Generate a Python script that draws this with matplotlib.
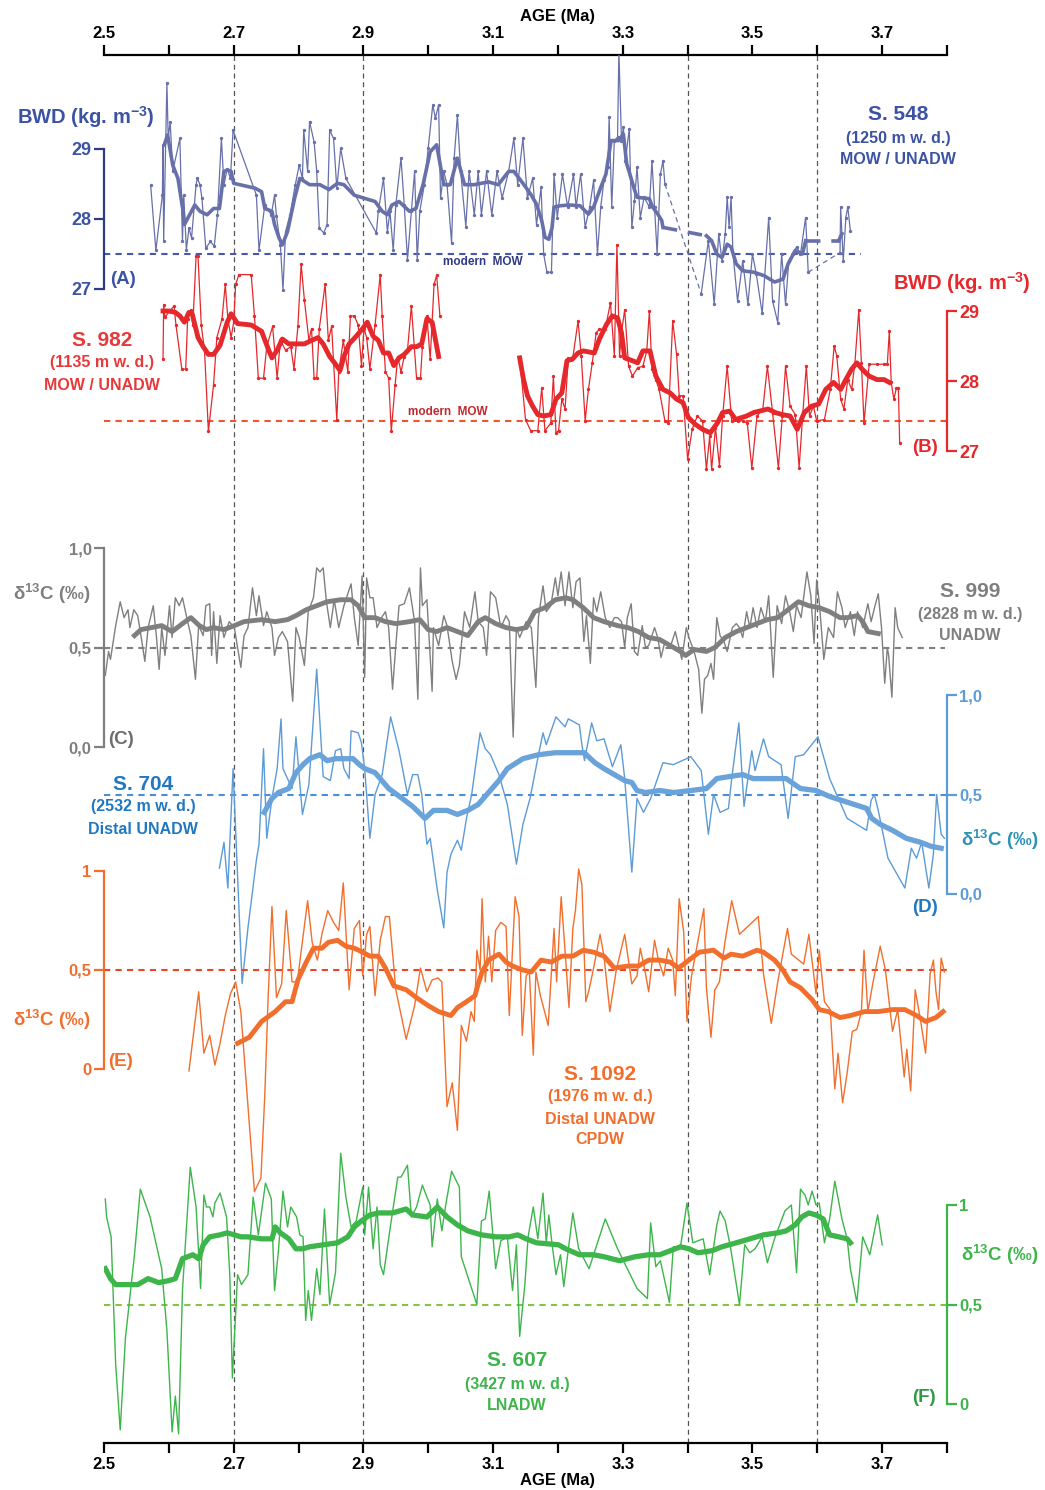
import matplotlib.pyplot as plt
import numpy as np

plt.rcParams['font.family'] = ['Liberation Sans', 'DejaVu Sans']
plt.rcParams['font.weight'] = 'bold'
plt.rcParams['mathtext.fontset'] = 'custom'
plt.rcParams['mathtext.rm'] = 'Liberation Sans:bold'
plt.rcParams['mathtext.it'] = 'Liberation Sans:bold'
plt.rcParams['mathtext.bf'] = 'Liberation Sans:bold'

# ---------------- data (age Ma, value) ----------------
# (A) S. 548 BWD
a_thin = np.array([
    [2.572, 28.48], [2.580, 27.55], [2.590, 28.34], [2.591, 29.06], [2.592, 27.68], [2.597, 29.94],
    [2.599, 29.15], [2.602, 29.39], [2.606, 28.68], [2.617, 29.15], [2.621, 27.68], [2.623, 28.34],
    [2.627, 27.56], [2.631, 27.87], [2.635, 27.73], [2.642, 28.49], [2.644, 28.58], [2.648, 28.49],
    [2.651, 28.30], [2.657, 27.58], [2.664, 27.68], [2.670, 27.61], [2.675, 28.06], [2.681, 29.15],
    [2.685, 28.49], [2.690, 28.72], [2.695, 28.58], [2.699, 29.27], [2.735, 28.34], [2.739, 27.55],
    [2.748, 28.20], [2.758, 28.06], [2.763, 28.34], [2.766, 28.04], [2.772, 27.63], [2.776, 26.99],
    [2.780, 27.82], [2.787, 28.06], [2.795, 28.49], [2.801, 28.77], [2.806, 28.58], [2.808, 29.27],
    [2.814, 28.68], [2.817, 29.39], [2.824, 29.10], [2.828, 28.68], [2.832, 27.87], [2.839, 27.80],
    [2.844, 27.92], [2.848, 29.27], [2.854, 29.15], [2.859, 28.44], [2.865, 29.01], [2.873, 28.58],
    [2.920, 27.80], [2.923, 28.11], [2.931, 28.58], [2.937, 27.82], [2.941, 28.11], [2.946, 27.55],
    [2.950, 28.20], [2.958, 28.87], [2.963, 28.20], [2.968, 27.42], [2.974, 28.11], [2.979, 28.68],
    [2.983, 27.42], [2.987, 28.11], [2.994, 28.49], [3.000, 29.01], [3.007, 29.63], [3.011, 29.44],
    [3.016, 29.63], [3.019, 28.30], [3.024, 28.68], [3.029, 28.49], [3.036, 27.66], [3.040, 28.87],
    [3.045, 29.48], [3.050, 28.68], [3.058, 27.89], [3.063, 28.68], [3.071, 28.06], [3.077, 28.68],
    [3.082, 28.06], [3.090, 28.68], [3.098, 28.06], [3.106, 28.68], [3.114, 28.30], [3.124, 28.68],
    [3.132, 29.15], [3.138, 28.49], [3.146, 29.15], [3.153, 28.30], [3.161, 28.58], [3.167, 27.92],
    [3.174, 28.45], [3.178, 27.50], [3.183, 27.24], [3.190, 27.24], [3.194, 28.64], [3.199, 28.02],
    [3.207, 28.64], [3.215, 28.17], [3.224, 28.64], [3.228, 28.17], [3.235, 28.64], [3.242, 27.88],
    [3.249, 28.17], [3.255, 28.55], [3.261, 27.50], [3.266, 28.17], [3.271, 28.55], [3.277, 28.74],
    [3.279, 29.45], [3.283, 28.17], [3.287, 29.12], [3.292, 29.17], [3.294, 30.40], [3.298, 29.12],
    [3.301, 29.31], [3.304, 28.83], [3.310, 29.29], [3.314, 27.88], [3.318, 28.26], [3.322, 28.74],
    [3.327, 28.02], [3.333, 28.31], [3.341, 28.17], [3.345, 28.83], [3.349, 28.17], [3.353, 27.50],
    [3.358, 28.64], [3.362, 28.83], [3.365, 28.50],
    [3.421, 26.93], [3.432, 27.69], [3.441, 26.78], [3.448, 27.79], [3.453, 27.40], [3.458, 27.79],
    [3.461, 28.31], [3.464, 27.88], [3.467, 28.31], [3.470, 27.50], [3.477, 26.83], [3.485, 27.40],
    [3.493, 26.78], [3.500, 27.50], [3.506, 27.21], [3.515, 26.65], [3.525, 28.02], [3.531, 26.83],
    [3.539, 26.52], [3.545, 27.50], [3.551, 26.78], [3.556, 27.40], [3.562, 27.50], [3.568, 27.60],
    [3.574, 27.50], [3.582, 28.02], [3.586, 27.24],
    [3.635, 27.52], [3.636, 28.17], [3.640, 27.40], [3.644, 28.02], [3.647, 28.17], [3.651, 27.83]])
a_thick = np.array([
    [2.593, 29.06], [2.598, 29.20], [2.606, 28.77], [2.614, 28.58], [2.622, 28.11], [2.624, 27.92],
    [2.632, 28.06], [2.640, 28.20], [2.648, 28.11], [2.659, 28.06], [2.669, 28.15], [2.678, 28.15],
    [2.685, 28.68], [2.690, 28.70], [2.696, 28.68], [2.700, 28.51], [2.733, 28.44], [2.743, 28.39],
    [2.748, 28.15], [2.759, 28.11], [2.763, 27.92], [2.770, 27.73], [2.775, 27.63], [2.783, 27.82],
    [2.794, 28.30], [2.802, 28.58], [2.817, 28.49], [2.833, 28.49], [2.847, 28.42], [2.860, 28.51],
    [2.870, 28.49], [2.886, 28.34], [2.918, 28.25], [2.929, 28.11], [2.937, 28.06], [2.944, 28.20],
    [2.955, 28.25], [2.971, 28.11], [2.981, 28.15], [2.992, 28.49], [3.003, 28.96], [3.013, 29.06],
    [3.024, 28.49], [3.034, 28.49], [3.045, 28.87], [3.056, 28.49], [3.071, 28.49], [3.093, 28.53],
    [3.108, 28.49], [3.124, 28.68], [3.132, 28.68], [3.146, 28.51], [3.159, 28.34], [3.167, 28.21],
    [3.175, 27.98], [3.180, 27.74], [3.186, 27.71], [3.191, 27.88], [3.194, 28.17], [3.204, 28.19],
    [3.218, 28.20], [3.234, 28.19], [3.247, 28.07], [3.255, 28.17], [3.266, 28.45], [3.274, 28.64],
    [3.282, 29.12], [3.293, 29.12], [3.301, 29.21], [3.306, 28.79], [3.311, 28.64], [3.317, 28.45],
    [3.322, 28.31], [3.341, 28.29], [3.346, 28.17], [3.354, 28.07], [3.360, 27.98], [3.362, 27.88],
    [3.429, 27.76], [3.437, 27.69], [3.445, 27.50], [3.453, 27.45], [3.461, 27.64], [3.467, 27.60],
    [3.475, 27.36], [3.485, 27.26], [3.502, 27.24], [3.518, 27.19], [3.534, 27.10], [3.547, 27.14],
    [3.555, 27.36], [3.566, 27.55], [3.577, 27.50], [3.582, 27.69],
    [3.633, 27.69], [3.638, 27.79]])
a_breaks = [3.39, 3.61]
a_modern = 27.5

# (B) S. 982 BWD
b_thin = np.array([
    [2.591, 28.31], [2.592, 29.09], [2.594, 28.91], [2.603, 29.02], [2.608, 29.07], [2.611, 28.80],
    [2.620, 28.17], [2.626, 28.17], [2.629, 28.89], [2.634, 29.02], [2.637, 28.80], [2.642, 29.78],
    [2.645, 29.78], [2.650, 28.80], [2.655, 28.44], [2.661, 27.28], [2.669, 27.95], [2.674, 28.62],
    [2.682, 28.89], [2.687, 29.38], [2.691, 28.89], [2.696, 28.62], [2.700, 28.84], [2.703, 29.38],
    [2.708, 29.52], [2.727, 29.52], [2.732, 28.93], [2.738, 28.04], [2.746, 28.04], [2.751, 28.49],
    [2.760, 28.78], [2.767, 28.04], [2.772, 28.58], [2.780, 28.44], [2.788, 28.49], [2.793, 28.17],
    [2.799, 28.78], [2.804, 29.67], [2.809, 29.16], [2.816, 28.58], [2.820, 28.75], [2.824, 28.04],
    [2.828, 28.04], [2.832, 28.75], [2.841, 29.38], [2.846, 28.58], [2.851, 28.78], [2.859, 27.44],
    [2.862, 28.13], [2.869, 28.58], [2.876, 28.13], [2.880, 28.93], [2.886, 28.93], [2.892, 28.80],
    [2.897, 28.22], [2.901, 28.75], [2.905, 28.62], [2.910, 28.17], [2.918, 28.80], [2.926, 29.52],
    [2.929, 28.93], [2.934, 28.13], [2.939, 28.04], [2.943, 27.28], [2.949, 27.95], [2.953, 28.35],
    [2.958, 28.13], [2.963, 28.35], [2.968, 28.44], [2.974, 29.07], [2.982, 28.04], [2.988, 28.04],
    [2.991, 28.49], [2.998, 28.93], [3.003, 28.31], [3.009, 29.38], [3.013, 29.51], [3.018, 28.93]])
b_thick = np.array([
    [2.591, 29.00], [2.600, 29.00], [2.610, 28.98], [2.617, 28.93], [2.624, 28.84], [2.631, 28.98],
    [2.636, 28.96], [2.645, 28.62], [2.653, 28.49], [2.661, 28.38], [2.669, 28.38], [2.679, 28.51],
    [2.690, 28.84], [2.696, 28.96], [2.706, 28.82], [2.727, 28.80], [2.743, 28.71], [2.754, 28.44],
    [2.759, 28.33], [2.767, 28.44], [2.775, 28.60], [2.785, 28.53], [2.796, 28.53], [2.809, 28.53],
    [2.820, 28.58], [2.830, 28.62], [2.838, 28.53], [2.848, 28.35], [2.857, 28.24], [2.864, 28.15],
    [2.870, 28.35], [2.878, 28.53], [2.889, 28.64], [2.899, 28.75], [2.906, 28.84], [2.915, 28.64],
    [2.923, 28.58], [2.931, 28.40], [2.939, 28.40], [2.947, 28.22], [2.955, 28.33], [2.963, 28.38],
    [2.974, 28.49], [2.982, 28.49], [2.990, 28.53], [2.998, 28.89], [3.006, 28.84], [3.016, 28.35]])
b2_thin = np.array([
    [3.141, 28.33], [3.150, 27.45], [3.158, 27.29], [3.169, 27.29], [3.175, 27.90], [3.180, 27.29],
    [3.189, 27.40], [3.193, 28.07], [3.197, 27.26], [3.201, 27.29], [3.206, 27.74], [3.211, 27.60],
    [3.216, 28.33], [3.223, 28.33], [3.231, 28.86], [3.236, 28.36], [3.242, 27.43], [3.247, 27.88],
    [3.253, 28.26], [3.259, 28.69], [3.264, 28.74], [3.273, 28.74], [3.281, 29.12], [3.287, 28.36],
    [3.291, 29.95], [3.295, 28.36], [3.298, 28.69], [3.303, 29.02], [3.309, 28.21], [3.315, 28.07],
    [3.323, 28.19], [3.331, 28.21], [3.337, 28.43], [3.341, 29.00], [3.345, 28.17], [3.351, 28.02],
    [3.356, 27.88], [3.365, 27.43], [3.370, 27.40], [3.377, 28.86], [3.383, 28.38], [3.387, 27.79],
    [3.393, 27.79], [3.400, 26.88], [3.407, 27.31], [3.415, 27.50], [3.423, 27.43], [3.429, 26.74],
    [3.434, 27.21], [3.437, 26.74], [3.443, 27.33], [3.449, 26.79], [3.454, 27.50], [3.461, 28.21],
    [3.468, 27.43], [3.477, 27.43], [3.485, 27.43], [3.492, 27.40], [3.499, 26.76], [3.507, 27.50],
    [3.516, 27.60], [3.523, 28.21], [3.531, 27.55], [3.540, 26.76], [3.546, 27.50], [3.551, 28.21],
    [3.558, 27.64], [3.566, 27.52], [3.572, 26.76], [3.577, 27.45], [3.583, 28.21], [3.588, 27.50],
    [3.594, 27.64], [3.599, 27.43], [3.611, 27.45], [3.620, 27.88], [3.626, 28.50], [3.630, 28.36],
    [3.636, 27.74], [3.641, 27.60], [3.647, 28.02], [3.653, 27.88], [3.658, 28.26], [3.664, 29.02],
    [3.668, 28.26], [3.672, 27.40], [3.680, 28.24], [3.692, 28.24], [3.703, 28.24], [3.708, 28.24],
    [3.711, 28.71], [3.714, 27.98], [3.718, 27.74], [3.722, 27.90], [3.725, 27.90], [3.727, 27.12]])
b2_thick = np.array([
    [3.141, 28.33], [3.147, 28.02], [3.153, 27.79], [3.161, 27.64], [3.169, 27.52], [3.178, 27.50],
    [3.189, 27.52], [3.197, 27.74], [3.206, 27.83], [3.214, 28.29], [3.222, 28.31], [3.231, 28.40],
    [3.239, 28.43], [3.256, 28.40], [3.264, 28.60], [3.275, 28.81], [3.284, 28.93], [3.292, 28.90],
    [3.298, 28.69], [3.303, 28.33], [3.315, 28.29], [3.323, 28.26], [3.331, 28.43], [3.342, 28.43],
    [3.351, 28.07], [3.362, 27.88], [3.373, 27.83], [3.383, 27.74], [3.393, 27.69], [3.401, 27.48],
    [3.412, 27.38], [3.423, 27.31], [3.435, 27.26], [3.446, 27.40], [3.454, 27.55], [3.465, 27.57],
    [3.474, 27.45], [3.491, 27.50], [3.502, 27.55], [3.524, 27.60], [3.535, 27.55], [3.546, 27.52],
    [3.558, 27.50], [3.569, 27.31], [3.580, 27.55], [3.591, 27.64], [3.602, 27.67], [3.613, 27.88],
    [3.625, 27.98], [3.636, 27.88], [3.644, 28.02], [3.653, 28.17], [3.661, 28.26], [3.669, 28.17],
    [3.680, 28.07], [3.692, 28.02], [3.703, 28.02], [3.711, 27.98]])
b_modern = 27.43

# (C) S. 999 d13C
c_thin = np.array([
    [2.502, 0.36], [2.507, 0.48], [2.510, 0.44], [2.518, 0.61], [2.525, 0.73], [2.531, 0.65],
    [2.537, 0.69], [2.540, 0.60], [2.546, 0.69], [2.552, 0.66], [2.557, 0.56], [2.563, 0.43],
    [2.568, 0.60], [2.576, 0.71], [2.581, 0.55], [2.585, 0.39], [2.589, 0.60], [2.594, 0.46],
    [2.601, 0.71], [2.605, 0.55], [2.610, 0.75], [2.616, 0.71], [2.621, 0.75], [2.629, 0.63],
    [2.634, 0.56], [2.641, 0.34], [2.646, 0.61], [2.653, 0.56], [2.657, 0.71], [2.663, 0.72],
    [2.666, 0.46], [2.669, 0.68], [2.674, 0.42], [2.679, 0.66], [2.685, 0.55], [2.693, 0.63],
    [2.701, 0.60], [2.711, 0.40], [2.716, 0.56], [2.722, 0.60], [2.729, 0.80], [2.735, 0.66],
    [2.739, 0.76], [2.746, 0.61], [2.751, 0.68], [2.759, 0.60], [2.763, 0.46], [2.769, 0.55],
    [2.775, 0.58], [2.783, 0.53], [2.791, 0.23], [2.796, 0.60], [2.801, 0.55], [2.809, 0.41],
    [2.815, 0.68], [2.823, 0.75], [2.828, 0.90], [2.833, 0.88], [2.838, 0.90], [2.843, 0.73],
    [2.849, 0.60], [2.855, 0.74], [2.862, 0.60], [2.870, 0.71], [2.881, 0.82], [2.886, 0.65],
    [2.892, 0.51], [2.898, 0.86], [2.902, 0.35], [2.905, 0.85], [2.910, 0.75], [2.915, 0.75],
    [2.921, 0.60], [2.928, 0.65], [2.934, 0.68], [2.939, 0.60], [2.945, 0.29], [2.950, 0.51],
    [2.955, 0.71], [2.963, 0.72], [2.971, 0.80], [2.979, 0.63], [2.984, 0.24], [2.988, 0.90],
    [2.991, 0.71], [2.998, 0.74], [3.006, 0.28], [3.008, 0.60], [3.016, 0.51], [3.024, 0.66],
    [3.029, 0.61], [3.037, 0.43], [3.043, 0.34], [3.048, 0.41], [3.056, 0.68], [3.064, 0.60],
    [3.072, 0.78], [3.077, 0.63], [3.085, 0.60], [3.090, 0.46], [3.096, 0.78], [3.104, 0.75],
    [3.112, 0.60], [3.120, 0.66], [3.125, 0.63], [3.131, 0.05], [3.136, 0.60], [3.141, 0.55],
    [3.151, 0.63], [3.159, 0.60], [3.166, 0.30], [3.170, 0.65], [3.177, 0.81], [3.182, 0.68],
    [3.189, 0.71], [3.196, 0.85], [3.200, 0.76], [3.205, 0.88], [3.211, 0.71], [3.217, 0.88],
    [3.223, 0.70], [3.228, 0.83], [3.234, 0.85], [3.240, 0.53], [3.244, 0.66], [3.250, 0.42],
    [3.255, 0.75], [3.260, 0.68], [3.266, 0.78], [3.273, 0.65], [3.280, 0.60], [3.287, 0.65],
    [3.292, 0.65], [3.298, 0.63], [3.303, 0.50], [3.307, 0.65], [3.313, 0.72], [3.318, 0.48],
    [3.323, 0.46], [3.330, 0.61], [3.335, 0.50], [3.340, 0.51], [3.349, 0.60], [3.354, 0.55],
    [3.359, 0.45], [3.365, 0.53], [3.373, 0.50], [3.381, 0.58], [3.386, 0.51], [3.391, 0.44],
    [3.398, 0.60], [3.402, 0.55], [3.410, 0.48], [3.417, 0.39], [3.422, 0.17], [3.426, 0.34],
    [3.431, 0.36], [3.436, 0.42], [3.440, 0.34], [3.445, 0.65], [3.450, 0.56], [3.456, 0.53],
    [3.461, 0.48], [3.469, 0.60], [3.475, 0.62], [3.480, 0.60], [3.485, 0.55], [3.491, 0.68],
    [3.496, 0.60], [3.501, 0.70], [3.507, 0.60], [3.513, 0.70], [3.520, 0.63], [3.525, 0.76],
    [3.532, 0.35], [3.538, 0.71], [3.545, 0.62], [3.551, 0.76], [3.558, 0.67], [3.563, 0.58],
    [3.568, 0.71], [3.575, 0.65], [3.584, 0.88], [3.590, 0.76], [3.595, 0.52], [3.599, 0.84],
    [3.603, 0.73], [3.610, 0.44], [3.617, 0.60], [3.625, 0.55], [3.631, 0.78], [3.638, 0.70],
    [3.643, 0.60], [3.651, 0.68], [3.657, 0.56], [3.662, 0.68], [3.670, 0.60], [3.678, 0.72],
    [3.683, 0.63], [3.689, 0.71], [3.694, 0.77], [3.699, 0.60], [3.704, 0.32], [3.708, 0.50],
    [3.710, 0.46], [3.715, 0.25], [3.720, 0.70], [3.724, 0.60], [3.731, 0.55]])
c_thick = np.array([
    [2.547, 0.56], [2.557, 0.59], [2.573, 0.60], [2.589, 0.61], [2.605, 0.58], [2.621, 0.62],
    [2.634, 0.65], [2.647, 0.61], [2.658, 0.59], [2.669, 0.60], [2.685, 0.59], [2.701, 0.61],
    [2.716, 0.63], [2.743, 0.64], [2.764, 0.63], [2.783, 0.64], [2.796, 0.66], [2.812, 0.69],
    [2.828, 0.71], [2.844, 0.73], [2.865, 0.74], [2.881, 0.74], [2.892, 0.71], [2.902, 0.65],
    [2.918, 0.65], [2.934, 0.63], [2.950, 0.62], [2.971, 0.63], [2.987, 0.64], [3.000, 0.59],
    [3.013, 0.58], [3.029, 0.60], [3.045, 0.58], [3.061, 0.56], [3.077, 0.63], [3.088, 0.65],
    [3.104, 0.62], [3.120, 0.60], [3.136, 0.59], [3.151, 0.60], [3.164, 0.68], [3.180, 0.70],
    [3.196, 0.74], [3.212, 0.75], [3.223, 0.74], [3.239, 0.70], [3.255, 0.65], [3.271, 0.63],
    [3.292, 0.61], [3.308, 0.60], [3.324, 0.58], [3.340, 0.55], [3.357, 0.54], [3.373, 0.51],
    [3.389, 0.48], [3.397, 0.46], [3.410, 0.49], [3.429, 0.48], [3.442, 0.50], [3.458, 0.55],
    [3.475, 0.58], [3.491, 0.60], [3.507, 0.62], [3.523, 0.64], [3.539, 0.65], [3.555, 0.69],
    [3.571, 0.73], [3.587, 0.71], [3.603, 0.70], [3.619, 0.68], [3.635, 0.65], [3.646, 0.65],
    [3.662, 0.66], [3.670, 0.63], [3.678, 0.58], [3.694, 0.57]])

# (D) S. 704 d13C
d_thin = np.array([
    [2.678, 0.13], [2.685, 0.26], [2.691, 0.03], [2.699, 0.63], [2.713, -0.45], [2.722, -0.17],
    [2.735, 0.17], [2.739, 0.25], [2.746, 0.73], [2.751, 0.28], [2.759, 0.48], [2.767, 0.63],
    [2.773, 0.88], [2.776, 0.63], [2.783, 0.58], [2.790, 0.53], [2.796, 0.79], [2.806, 0.40],
    [2.816, 0.55], [2.828, 1.13], [2.838, 0.59], [2.849, 0.57], [2.857, 0.72], [2.865, 0.73],
    [2.870, 0.63], [2.878, 0.58], [2.881, 0.82], [2.892, 0.81], [2.897, 0.76], [2.902, 0.63],
    [2.910, 0.28], [2.918, 0.50], [2.929, 0.60], [2.942, 0.89], [2.955, 0.72], [2.968, 0.50],
    [2.976, 0.60], [2.984, 0.60], [2.990, 0.50], [2.998, 0.25], [3.003, 0.28], [3.014, 0.02],
    [3.024, -0.17], [3.029, 0.11], [3.035, 0.20], [3.045, 0.27], [3.051, 0.22], [3.059, 0.38],
    [3.067, 0.50], [3.080, 0.81], [3.088, 0.73], [3.096, 0.70], [3.109, 0.60], [3.122, 0.45],
    [3.136, 0.15], [3.146, 0.35], [3.157, 0.48], [3.170, 0.70], [3.177, 0.81], [3.182, 0.75],
    [3.197, 0.89], [3.211, 0.84], [3.216, 0.88], [3.233, 0.85], [3.237, 0.75], [3.241, 0.67],
    [3.252, 0.86], [3.260, 0.77], [3.271, 0.78], [3.284, 0.64], [3.297, 0.75], [3.303, 0.58],
    [3.314, 0.11], [3.322, 0.48], [3.332, 0.41], [3.343, 0.48], [3.362, 0.66], [3.378, 0.65],
    [3.405, 0.69], [3.421, 0.62], [3.432, 0.30], [3.440, 0.50], [3.450, 0.41], [3.463, 0.43],
    [3.468, 0.58], [3.479, 0.86], [3.487, 0.44], [3.499, 0.72], [3.504, 0.62], [3.517, 0.78],
    [3.525, 0.69], [3.544, 0.65], [3.555, 0.38], [3.566, 0.69], [3.579, 0.70], [3.601, 0.79],
    [3.619, 0.58], [3.646, 0.38], [3.676, 0.32], [3.683, 0.47], [3.688, 0.50], [3.694, 0.42],
    [3.709, 0.18], [3.735, 0.03], [3.745, 0.23], [3.753, 0.18], [3.761, 0.26], [3.772, 0.03],
    [3.779, 0.20], [3.784, 0.50], [3.791, 0.30], [3.796, 0.28]])
d_thick = np.array([
    [2.747, 0.41], [2.759, 0.48], [2.769, 0.51], [2.785, 0.53], [2.796, 0.61], [2.807, 0.65],
    [2.817, 0.68], [2.833, 0.70], [2.844, 0.67], [2.857, 0.68], [2.870, 0.68], [2.884, 0.68],
    [2.894, 0.65], [2.902, 0.63], [2.918, 0.61], [2.939, 0.53], [2.960, 0.48], [2.976, 0.44],
    [2.995, 0.38], [3.008, 0.42], [3.029, 0.42], [3.045, 0.40], [3.061, 0.42], [3.077, 0.45],
    [3.093, 0.51], [3.109, 0.57], [3.122, 0.63], [3.146, 0.68], [3.170, 0.70], [3.196, 0.71],
    [3.217, 0.71], [3.241, 0.71], [3.247, 0.69], [3.257, 0.66], [3.271, 0.63], [3.287, 0.60],
    [3.303, 0.57], [3.314, 0.56], [3.322, 0.52], [3.335, 0.51], [3.357, 0.52], [3.378, 0.51],
    [3.405, 0.52], [3.429, 0.53], [3.445, 0.58], [3.464, 0.59], [3.485, 0.60], [3.501, 0.58],
    [3.528, 0.58], [3.552, 0.58], [3.574, 0.53], [3.598, 0.52], [3.619, 0.49], [3.638, 0.47],
    [3.676, 0.43], [3.684, 0.38], [3.697, 0.35], [3.716, 0.32], [3.737, 0.28], [3.759, 0.26],
    [3.775, 0.24], [3.791, 0.23]])

# (E) S. 1092 d13C
e_thin = np.array([
    [2.631, -0.01], [2.646, 0.39], [2.654, 0.08], [2.663, 0.17], [2.671, 0.02], [2.679, 0.13],
    [2.687, 0.27], [2.695, 0.38], [2.703, 0.44], [2.711, 0.29], [2.732, -0.62], [2.742, -0.55],
    [2.748, -0.13], [2.753, 0.35], [2.759, 0.82], [2.766, 0.36], [2.774, 0.43], [2.781, 0.80],
    [2.790, 0.44], [2.798, 0.44], [2.814, 0.85], [2.821, 0.64], [2.829, 0.55], [2.836, 0.68],
    [2.845, 0.80], [2.854, 0.74], [2.862, 0.70], [2.869, 0.94], [2.878, 0.40], [2.886, 0.71],
    [2.894, 0.75], [2.899, 0.47], [2.905, 0.68], [2.910, 0.72], [2.918, 0.37], [2.926, 0.65],
    [2.934, 0.77], [2.940, 0.77], [2.950, 0.40], [2.966, 0.15], [2.979, 0.32], [2.988, 0.51],
    [2.998, 0.39], [3.006, 0.45], [3.015, 0.46], [3.021, 0.44], [3.029, -0.19], [3.037, -0.07],
    [3.045, -0.31], [3.051, 0.22], [3.059, 0.14], [3.066, 0.29], [3.071, 0.24], [3.075, 0.60],
    [3.080, 0.50], [3.083, 0.86], [3.088, 0.44], [3.093, 0.67], [3.098, 0.44], [3.104, 0.70],
    [3.112, 0.74], [3.120, 0.72], [3.125, 0.27], [3.134, 0.87], [3.140, 0.77], [3.145, 0.17],
    [3.151, 0.47], [3.156, 0.49], [3.162, 0.07], [3.166, 0.49], [3.173, 0.37], [3.185, 0.22],
    [3.194, 0.71], [3.198, 0.44], [3.205, 0.87], [3.212, 0.55], [3.217, 0.31], [3.223, 0.71],
    [3.227, 0.80], [3.232, 1.01], [3.237, 0.93], [3.243, 0.34], [3.248, 0.40], [3.255, 0.51],
    [3.265, 0.68], [3.271, 0.57], [3.280, 0.29], [3.290, 0.50], [3.303, 0.68], [3.314, 0.43],
    [3.322, 0.47], [3.327, 0.61], [3.334, 0.50], [3.340, 0.39], [3.349, 0.65], [3.355, 0.55],
    [3.363, 0.47], [3.370, 0.61], [3.377, 0.55], [3.381, 0.37], [3.387, 0.86], [3.394, 0.69],
    [3.399, 0.24], [3.406, 0.47], [3.416, 0.65], [3.425, 0.81], [3.429, 0.41], [3.436, 0.16],
    [3.442, 0.40], [3.449, 0.44], [3.458, 0.65], [3.468, 0.85], [3.480, 0.68], [3.509, 0.77],
    [3.517, 0.48], [3.529, 0.23], [3.539, 0.44], [3.554, 0.71], [3.560, 0.58], [3.579, 0.53],
    [3.587, 0.68], [3.598, 0.38], [3.603, 0.60], [3.611, 0.34], [3.620, 0.30], [3.627, -0.10],
    [3.632, 0.08], [3.639, -0.17], [3.646, -0.02], [3.654, 0.19], [3.661, 0.20], [3.668, 0.29],
    [3.672, 0.60], [3.678, 0.29], [3.686, 0.44], [3.697, 0.62], [3.705, 0.50], [3.716, 0.19],
    [3.724, 0.30], [3.734, -0.04], [3.738, 0.10], [3.744, -0.11], [3.751, 0.40], [3.759, 0.25],
    [3.767, 0.08], [3.774, 0.48], [3.779, 0.55], [3.783, 0.39], [3.787, 0.30], [3.791, 0.56],
    [3.796, 0.49]])
e_thick = np.array([
    [2.706, 0.13], [2.724, 0.16], [2.743, 0.24], [2.764, 0.29], [2.780, 0.34], [2.790, 0.34],
    [2.799, 0.45], [2.812, 0.54], [2.823, 0.61], [2.836, 0.61], [2.846, 0.64], [2.860, 0.65],
    [2.873, 0.62], [2.886, 0.61], [2.899, 0.59], [2.910, 0.57], [2.923, 0.57], [2.934, 0.51],
    [2.947, 0.42], [2.966, 0.40], [2.982, 0.36], [3.000, 0.32], [3.016, 0.29], [3.035, 0.27],
    [3.045, 0.31], [3.059, 0.34], [3.072, 0.37], [3.077, 0.43], [3.083, 0.49], [3.093, 0.55],
    [3.109, 0.58], [3.120, 0.54], [3.130, 0.52], [3.146, 0.50], [3.159, 0.49], [3.174, 0.55],
    [3.190, 0.54], [3.206, 0.57], [3.223, 0.57], [3.239, 0.60], [3.255, 0.59], [3.271, 0.57],
    [3.287, 0.51], [3.308, 0.52], [3.324, 0.52], [3.340, 0.55], [3.357, 0.55], [3.373, 0.54],
    [3.386, 0.51], [3.402, 0.55], [3.418, 0.59], [3.440, 0.60], [3.456, 0.56], [3.467, 0.58],
    [3.485, 0.57], [3.507, 0.60], [3.517, 0.59], [3.534, 0.55], [3.547, 0.50], [3.558, 0.44],
    [3.574, 0.41], [3.592, 0.35], [3.603, 0.30], [3.617, 0.29], [3.635, 0.26], [3.651, 0.27],
    [3.673, 0.29], [3.694, 0.29], [3.716, 0.30], [3.735, 0.30], [3.753, 0.27], [3.767, 0.24],
    [3.783, 0.26], [3.794, 0.29]])

# (F) S. 607 d13C
f_thin = np.array([
    [2.502, 1.03], [2.504, 0.94], [2.511, 0.84], [2.518, 0.20], [2.525, -0.13], [2.533, 0.33],
    [2.547, 0.75], [2.556, 1.08], [2.571, 0.94], [2.589, 0.68], [2.597, 0.37], [2.605, -0.14],
    [2.610, 0.04], [2.615, -0.15], [2.621, 0.57], [2.633, 1.19], [2.642, 0.99], [2.649, 0.58],
    [2.654, 1.05], [2.658, 0.99], [2.663, 0.99], [2.668, 0.94], [2.671, 1.01], [2.679, 1.06],
    [2.689, 0.94], [2.694, 0.65], [2.698, 0.13], [2.706, 0.65], [2.712, 0.60], [2.722, 0.65],
    [2.730, 1.04], [2.738, 0.85], [2.749, 1.11], [2.758, 1.03], [2.763, 0.57], [2.769, 0.77],
    [2.776, 1.07], [2.783, 0.89], [2.788, 0.99], [2.797, 0.94], [2.802, 0.85], [2.807, 0.84],
    [2.811, 0.42], [2.815, 0.57], [2.820, 0.42], [2.828, 0.68], [2.833, 0.55], [2.840, 0.98],
    [2.848, 0.50], [2.857, 0.66], [2.865, 1.26], [2.873, 1.04], [2.881, 0.89], [2.889, 0.92],
    [2.899, 1.09], [2.902, 0.85], [2.908, 1.09], [2.915, 0.78], [2.921, 0.99], [2.926, 0.70],
    [2.931, 0.65], [2.942, 0.90], [2.953, 1.14], [2.958, 1.14], [2.968, 1.20], [2.974, 0.94],
    [2.982, 0.99], [2.991, 1.10], [2.998, 1.04], [3.003, 1.00], [3.006, 0.79], [3.014, 1.03],
    [3.021, 0.87], [3.027, 1.00], [3.036, 1.17], [3.048, 1.09], [3.051, 0.74], [3.075, 0.50],
    [3.082, 0.92], [3.088, 0.93], [3.094, 1.07], [3.104, 0.68], [3.112, 0.82], [3.122, 0.84],
    [3.130, 0.57], [3.136, 0.80], [3.141, 0.34], [3.149, 0.60], [3.154, 0.84], [3.162, 0.99],
    [3.169, 0.83], [3.177, 1.06], [3.182, 0.81], [3.186, 0.95], [3.190, 0.83], [3.197, 0.65],
    [3.204, 0.75], [3.209, 0.59], [3.223, 0.96], [3.232, 0.78], [3.248, 0.68], [3.273, 0.93],
    [3.292, 0.78], [3.322, 0.58], [3.338, 0.53], [3.343, 0.91], [3.351, 0.69], [3.358, 0.72],
    [3.372, 0.51], [3.378, 0.79], [3.389, 0.79], [3.399, 1.01], [3.408, 0.81], [3.424, 0.83],
    [3.434, 0.65], [3.445, 0.90], [3.450, 0.97], [3.458, 0.92], [3.466, 0.79], [3.480, 0.50],
    [3.488, 0.80], [3.496, 0.76], [3.504, 0.78], [3.515, 0.84], [3.523, 0.71], [3.534, 0.83],
    [3.550, 0.97], [3.560, 1.00], [3.568, 0.66], [3.574, 1.08], [3.581, 1.05], [3.586, 1.00],
    [3.592, 1.07], [3.598, 1.00], [3.603, 1.01], [3.611, 0.81], [3.619, 0.93], [3.627, 1.12],
    [3.638, 0.93], [3.646, 0.83], [3.651, 0.68], [3.661, 0.51], [3.670, 0.84], [3.681, 0.75],
    [3.693, 0.95], [3.700, 0.80]])
f_thick = np.array([
    [2.502, 0.68], [2.510, 0.63], [2.518, 0.60], [2.533, 0.60], [2.552, 0.60], [2.568, 0.63],
    [2.584, 0.61], [2.600, 0.62], [2.610, 0.63], [2.621, 0.73], [2.637, 0.75], [2.646, 0.73],
    [2.653, 0.80], [2.663, 0.84], [2.679, 0.85], [2.690, 0.86], [2.701, 0.85], [2.711, 0.84],
    [2.722, 0.84], [2.743, 0.83], [2.759, 0.83], [2.764, 0.89], [2.772, 0.86], [2.785, 0.83],
    [2.796, 0.78], [2.807, 0.78], [2.817, 0.79], [2.838, 0.80], [2.860, 0.81], [2.876, 0.84],
    [2.886, 0.89], [2.897, 0.92], [2.910, 0.95], [2.923, 0.96], [2.945, 0.96], [2.966, 0.98],
    [2.976, 0.95], [2.998, 0.94], [3.014, 0.99], [3.029, 0.94], [3.045, 0.90], [3.061, 0.87],
    [3.082, 0.85], [3.104, 0.84], [3.125, 0.84], [3.138, 0.85], [3.151, 0.83], [3.167, 0.81],
    [3.201, 0.80], [3.212, 0.78], [3.233, 0.75], [3.255, 0.75], [3.271, 0.74], [3.295, 0.72],
    [3.319, 0.74], [3.340, 0.75], [3.357, 0.75], [3.373, 0.77], [3.389, 0.79], [3.402, 0.78],
    [3.416, 0.76], [3.437, 0.77], [3.453, 0.79], [3.475, 0.81], [3.496, 0.83], [3.517, 0.85],
    [3.539, 0.86], [3.552, 0.87], [3.566, 0.90], [3.576, 0.94], [3.587, 0.96], [3.598, 0.95],
    [3.609, 0.93], [3.619, 0.85], [3.633, 0.84], [3.646, 0.83], [3.651, 0.81]])

ref_ages = [2.7, 2.9, 3.4, 3.6]
age_ticks = [2.5, 2.6, 2.7, 2.8, 2.9, 3.0, 3.1, 3.2, 3.3, 3.4, 3.5, 3.6, 3.7, 3.8]
age_labels = ['2.5', '', '2.7', '', '2.9', '', '3.1', '', '3.3', '', '3.5', '', '3.7', '']

# ---------------- layout ----------------
W, H = 1045, 1490
X0, X1, Y0, Y1 = 104, 947, 55, 1443
rect = [X0 / W, 1 - Y1 / H, (X1 - X0) / W, (Y1 - Y0) / H]

fig = plt.figure(figsize=(W / 100, H / 100), dpi=100)

ax0 = fig.add_axes(rect)
ax0.set_xlim(2.5, 3.8)
ax0.set_ylim(0, 1)
ax0.set_yticks([])
ax0.spines['left'].set_visible(False)
ax0.spines['right'].set_visible(False)
for s in ['top', 'bottom']:
    ax0.spines[s].set_linewidth(1.6)
ax0.set_xticks(age_ticks, age_labels)
ax0.tick_params(axis='x', top=True, labeltop=True, direction='out', length=7, width=1.6,
                labelsize=12, pad=3)
for a in ref_ages:
    ax0.axvline(a, color='#555555', lw=0.9, ls=(0, (4, 3)))


def panel(v_lo, p_lo, v_hi, p_hi, side, color, ticks, labels, size=12):
    ax = fig.add_axes(rect, facecolor='none')
    k = (p_lo - p_hi) / (v_hi - v_lo)
    ax.set_ylim(v_lo - (Y1 - p_lo) / k, v_hi + (p_hi - Y0) / k)
    ax.set_xlim(2.5, 3.8)
    ax.xaxis.set_visible(False)
    for s in ax.spines.values():
        s.set_visible(False)
    sp = ax.spines[side]
    sp.set_visible(True)
    sp.set_bounds(v_lo, v_hi)
    sp.set_color(color)
    sp.set_linewidth(1.6)
    ax.yaxis.set_ticks_position(side)
    ax.set_yticks(ticks, labels)
    ax.tick_params(axis='y', direction='out', length=7, width=1.6, colors=color,
                   labelsize=size, pad=2)
    return ax


def txt(x, y, s, color, size, ha='center'):
    fig.text(x / W, 1 - y / H, s, color=color, fontsize=size, ha=ha, va='center',
             fontweight='bold')


txt(557, 17, 'AGE (Ma)', 'black', 12)
txt(557, 1481, 'AGE (Ma)', 'black', 12)

# (A)
cA, cA2, cAt = '#6770a9', '#2f3a86', '#3c53a4'
axA = panel(27, 289, 29, 149, 'left', cA2, [27, 28, 29], ['27', '28', '29'], 13)
axA.tick_params(axis='y', labelcolor=cAt)
axA.hlines(a_modern, 2.5, 3.667, color='#4658ad', lw=1.5, ls=(0, (3, 2.5)))


def split(arr, breaks):
    idx = np.searchsorted(arr[:, 0], breaks)
    return np.split(arr, idx)


for data, lw, ms in [(a_thin, 0.9, 1.4), (a_thick, 2.6, 0)]:
    segs = split(data, a_breaks)
    for i, s in enumerate(segs):
        axA.plot(s[:, 0], s[:, 1], color=cA, lw=lw, marker='o' if ms else None, ms=ms,
                 solid_joinstyle='round')
        if i:
            p = segs[i - 1][-1]
            axA.plot([p[0], s[0, 0]], [p[1], s[0, 1]], color=cA, lw=lw, ls=(0, (4, 3)))

txt(17, 117, 'BWD (kg. m$^{-3}$)', cAt, 14.5, ha='left')
txt(110, 279, '(A)', cAt, 13.5, ha='left')
txt(483, 262, 'modern  MOW', cA2, 8.5)
txt(898, 115, 'S. 548', cAt, 15)
txt(898, 138, '(1250 m w. d.)', cAt, 11.5)
txt(898, 160, 'MOW / UNADW', cAt, 11.5)

# (B)
cB = '#e5282c'
axB = panel(27, 451, 29, 311, 'right', cB, [27, 28, 29], ['27', '28', '29'], 13)
axB.hlines(b_modern, 2.5, 3.8, color='#ee5530', lw=1.5, ls=(0, (3, 2.5)))
for d in [b_thin, b2_thin]:
    axB.plot(d[:, 0], d[:, 1], color=cB, lw=0.9, marker='o', ms=1.4)
for d in [b_thick, b2_thick]:
    axB.plot(d[:, 0], d[:, 1], color=cB, lw=3.5, solid_joinstyle='round')
txt(893, 283, 'BWD (kg. m$^{-3}$)', cB, 14.5, ha='left')
txt(102, 340, 'S. 982', '#e8393a', 15)
txt(102, 363, '(1135 m w. d.)', '#e8393a', 11.5)
txt(102, 385, 'MOW / UNADW', '#e8393a', 11.5)
txt(448, 412, 'modern  MOW', '#c0282d', 8.5)
txt(912, 447, '(B)', cB, 13.5, ha='left')

# (C)
cC = '#7f7f80'
axC = panel(0, 747, 1, 548, 'left', cC, [0, 0.5, 1], ['0,0', '0,5', '1,0'])
axC.hlines(0.5, 2.5, 3.797, color=cC, lw=1.5, ls=(0, (3, 2.5)))
axC.plot(c_thin[:, 0], c_thin[:, 1], color=cC, lw=1.0)
axC.plot(c_thick[:, 0], c_thick[:, 1], color=cC, lw=3.5, solid_joinstyle='round')
txt(52, 594, 'δ$^{13}$C (‰)', cC, 13.5)
txt(108, 739, '(C)', '#6d6d6e', 13.5, ha='left')
txt(970, 592, 'S. 999', cC, 15)
txt(970, 614, '(2828 m w. d.)', cC, 11.5)
txt(970, 636, 'UNADW', cC, 11.5)

# (D)
cD, cDt = '#5c9bd6', '#2178c2'
axD = panel(0, 894, 1, 695, 'right', cD, [0, 0.5, 1], ['0,0', '0,5', '1,0'])
axD.hlines(0.5, 2.5, 3.8, color='#4a8fd6', lw=1.5, ls=(0, (3, 2.5)))
axD.plot(d_thin[:, 0], d_thin[:, 1], color=cD, lw=1.0)
axD.plot(d_thick[:, 0], d_thick[:, 1], color='#6aa3da', lw=3.8, solid_joinstyle='round')
txt(143, 784, 'S. 704', cDt, 15)
txt(143, 807, '(2532 m w. d.)', cDt, 11.5)
txt(143, 829, 'Distal UNADW', cDt, 11.5)
txt(1000, 840, 'δ$^{13}$C (‰)', '#2a93b3', 13.5)
txt(912, 908, '(D)', cDt, 13.5, ha='left')

# (E)
cE = '#f26e2c'
axE = panel(0, 1069, 1, 871, 'left', cE, [0, 0.5, 1], ['0', '0,5', '1'])
axE.hlines(0.5, 2.5, 3.8, color='#ec4526', lw=1.5, ls=(0, (3, 2.5)))
axE.plot(e_thin[:, 0], e_thin[:, 1], color=cE, lw=1.0)
axE.plot(e_thick[:, 0], e_thick[:, 1], color=cE, lw=3.5, solid_joinstyle='round')
txt(52, 1020, 'δ$^{13}$C (‰)', cE, 13.5)
txt(108, 1062, '(E)', cE, 13.5, ha='left')
txt(600, 1075, 'S. 1092', cE, 15)
txt(600, 1097, '(1976 m w. d.)', cE, 11.5)
txt(600, 1119, 'Distal UNADW', cE, 11.5)
txt(600, 1140, 'CPDW', cE, 11.5)

# (F)
cF = '#3db54b'
axF = panel(0, 1404, 1, 1205, 'right', cF, [0, 0.5, 1], ['0', '0,5', '1'])
axF.hlines(0.5, 2.5, 3.8, color='#84c441', lw=1.5, ls=(0, (3, 2.5)))
axF.plot(f_thin[:, 0], f_thin[:, 1], color=cF, lw=1.0)
axF.plot(f_thick[:, 0], f_thick[:, 1], color=cF, lw=3.8, solid_joinstyle='round')
txt(1000, 1255, 'δ$^{13}$C (‰)', cF, 13.5)
txt(912, 1397, '(F)', '#2e9a44', 13.5, ha='left')
txt(517, 1361, 'S. 607', cF, 15)
txt(517, 1384, '(3427 m w. d.)', cF, 11.5)
txt(517, 1405, 'LNADW', cF, 11.5)

fig.savefig('out.png', dpi=100)
